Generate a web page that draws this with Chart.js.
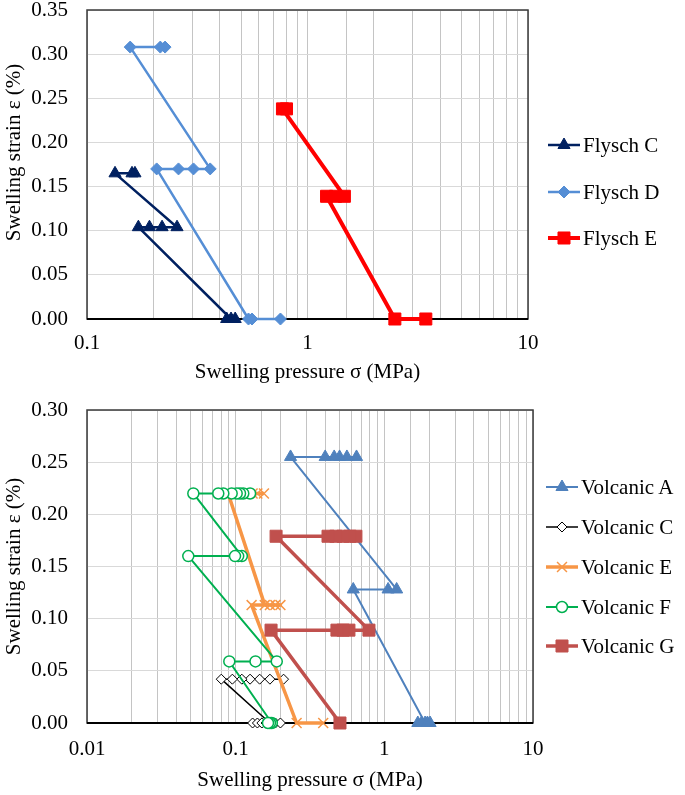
<!DOCTYPE html>
<html>
<head>
<meta charset="utf-8">
<script src="https://cdn.jsdelivr.net/npm/chart.js@4"></script>
<style>
  html, body { margin: 0; padding: 0; background: #fff; }
  #wrap { position: relative; width: 685px; height: 795px; background: #fff; overflow: hidden; }
  canvas.chart { position: absolute; left: 0; }
  .lg { position: absolute; display: flex; align-items: center; height: 26px;
        font-family: 'Liberation Serif', 'Times New Roman', serif; font-size: 21px; color: #000; white-space: nowrap; }
  .lg canvas { display: block; margin-right: 1px; }
</style>
</head>
<body>
<div id="wrap">
  <canvas id="topChart" class="chart" width="685" height="395" style="top:0"></canvas>
  <canvas id="botChart" class="chart" width="685" height="400" style="top:395px"></canvas>
</div>
<script>
// ---------------- DATA : top chart (Flysch) ----------------
const flyschC_x = [0.165, 0.160, 0.134, 0.256, 0.219, 0.192, 0.171, 0.45, 0.43, 0.47];
const flyschC_y = [0.165, 0.165, 0.165, 0.104, 0.104, 0.104, 0.104, 0, 0, 0];
const flyschD_x = [0.226, 0.215, 0.157, 0.362, 0.304, 0.260, 0.207, 0.54, 0.56, 0.754];
const flyschD_y = [0.308, 0.308, 0.308, 0.170, 0.170, 0.170, 0.170, 0, 0, 0];
const flyschE_x = [0.803, 0.770, 1.47, 1.34, 1.22, 2.49, 3.44];
const flyschE_y = [0.238, 0.238, 0.139, 0.139, 0.139, 0, 0];

// ---------------- DATA : bottom chart (Volcanic) ----------------
const volcA_x = [0.65, 0.56, 0.50, 0.46, 0.40, 0.234, 1.21, 1.06, 0.618, 1.88, 1.68, 1.78, 1.95, 2.03];
const volcA_y = [0.255, 0.255, 0.255, 0.255, 0.255, 0.255, 0.128, 0.128, 0.128, 0, 0, 0, 0, 0];
const volcC_x = [0.21, 0.17, 0.145, 0.125, 0.11, 0.095, 0.08, 0.17, 0.13, 0.14, 0.15, 0.16, 0.185, 0.20];
const volcC_y = [0.042, 0.042, 0.042, 0.042, 0.042, 0.042, 0.042, 0, 0, 0, 0, 0, 0, 0];
const volcE_x = [0.155, 0.14, 0.13, 0.12, 0.11, 0.10, 0.089, 0.157, 0.17, 0.185, 0.20, 0.128, 0.257, 0.388];
const volcE_y = [0.22, 0.22, 0.22, 0.22, 0.22, 0.22, 0.22, 0.113, 0.113, 0.113, 0.113, 0.113, 0, 0];
const volcF_x = [0.125, 0.1125, 0.107, 0.1016, 0.094, 0.0826, 0.0764, 0.0519, 0.110, 0.104, 0.099, 0.048, 0.189, 0.136, 0.0906, 0.175, 0.170, 0.165];
const volcF_y = [0.22, 0.22, 0.22, 0.22, 0.22, 0.22, 0.22, 0.22, 0.16, 0.16, 0.16, 0.16, 0.059, 0.059, 0.059, 0, 0, 0];
const volcG_x = [0.644, 0.587, 0.527, 0.472, 0.418, 0.187, 0.788, 0.578, 0.527, 0.48, 0.173, 0.503];
const volcG_y = [0.179, 0.179, 0.179, 0.179, 0.179, 0.179, 0.089, 0.089, 0.089, 0.089, 0.089, 0];

// ---------------- TICKS / LABELS ----------------
const topXMajor = [0.1, 1, 10];
const botXMajor = [0.01, 0.1, 1, 10];
const topYTicks = [0, 0.05, 0.10, 0.15, 0.20, 0.25, 0.30, 0.35];
const botYTicks = [0, 0.05, 0.10, 0.15, 0.20, 0.25, 0.30];
const xTitle = 'Swelling pressure σ (MPa)';
const yTitle = 'Swelling strain ε (%)';
const topNames = ['Flysch C', 'Flysch D', 'Flysch E'];
const botNames = ['Volcanic A', 'Volcanic C', 'Volcanic E', 'Volcanic F', 'Volcanic G'];

// ---------------- STYLES ----------------
const FONT = "'Liberation Serif', 'Times New Roman', serif";
const topStyles = [
  { color: '#002060', point: 'triangle', r: 7,   fill: '#002060', pbw: 1,   lw: 2.5 },
  { color: '#558ED5', point: 'rectRot',  r: 6,   fill: '#558ED5', pbw: 1,   lw: 2.5 },
  { color: '#FF0000', point: 'rect',     r: 8.5, fill: '#FF0000', pbw: 1,   lw: 4 }
];
const botStyles = [
  { color: '#4F81BD', point: 'triangle', r: 7,   fill: '#4F81BD', pbw: 1,   lw: 2 },
  { color: '#000000', point: 'rectRot',  r: 5,   fill: '#FFFFFF', pbw: 1,   lw: 1.5 },
  { color: '#F79646', point: 'crossRot', r: 7,   fill: '#F79646', pbw: 1.5, lw: 3.5 },
  { color: '#00B050', point: 'circle',   r: 5.5, fill: '#FFFFFF', pbw: 1.5, lw: 2 },
  { color: '#C0504D', point: 'rect',     r: 8.5, fill: '#C0504D', pbw: 1,   lw: 3.5 }
];

function pts(xs, ys) { return xs.map((x, i) => ({ x: x, y: ys[i] })); }

function makeDataset(label, xs, ys, st, order) {
  return {
    label: label,
    data: pts(xs, ys),
    showLine: true,
    borderColor: st.color,
    borderWidth: st.lw,
    borderJoinStyle: 'round',
    backgroundColor: st.fill,
    pointStyle: st.point,
    pointRadius: st.r,
    pointHoverRadius: st.r,
    pointBackgroundColor: st.fill,
    pointBorderColor: st.color,
    pointBorderWidth: st.pbw,
    clip: false,
    order: order
  };
}

const framePlugin = {
  id: 'frame',
  beforeDatasetsDraw(chart) {
    const { ctx, chartArea: a } = chart;
    ctx.save();
    ctx.strokeStyle = '#3a3a3a';
    ctx.lineWidth = 1.5;
    ctx.strokeRect(a.left, a.top, a.right - a.left, a.bottom - a.top);
    ctx.strokeStyle = '#000';
    ctx.lineWidth = 2;
    ctx.beginPath(); ctx.moveTo(a.left, a.bottom); ctx.lineTo(a.right, a.bottom); ctx.stroke();
    ctx.restore();
  }
};

const shiftYTitlePlugin = {
  id: 'shiftYTitle',
  afterLayout(chart, args, opts) {
    const s = chart.scales.y;
    if (s && !s._shiftPatched && opts && opts.dy) {
      const orig = s.drawTitle.bind(s);
      s.drawTitle = function () {
        const ctx = this.ctx;
        ctx.save(); ctx.translate(0, opts.dy); orig(); ctx.restore();
      };
      s._shiftPatched = true;
    }
  }
};

function isMajor(v, majors) { return majors.some(m => Math.abs(v / m - 1) < 1e-6); }

function makeChart(canvasId, datasets, cfg) {
  return new Chart(document.getElementById(canvasId), {
    type: 'scatter',
    data: { datasets: datasets },
    options: {
      responsive: false,
      animation: false,
      devicePixelRatio: 1,
      layout: { padding: { left: 0, right: cfg.padRight, top: cfg.padTop, bottom: 0 } },
      plugins: {
        legend: { display: false },
        tooltip: { enabled: false },
        shiftYTitle: { dy: cfg.yTitleDy }
      },
      scales: {
        x: {
          type: 'logarithmic',
          min: cfg.xMin, max: cfg.xMax,
          border: { display: false },
          grid: { color: '#c4c4c4', lineWidth: 1, drawTicks: false },
          ticks: {
            autoSkip: false, maxRotation: 0, minRotation: 0, padding: cfg.xTickPad,
            color: '#000', font: { family: FONT, size: 21 },
            callback: (v) => isMajor(v, cfg.xMajor) ? String(cfg.xMajor.find(m => Math.abs(v / m - 1) < 1e-6)) : ''
          },
          title: { display: true, text: xTitle, color: '#000', font: { family: FONT, size: 21 },
                   padding: { top: 0, bottom: cfg.xTitlePad } },
          afterFit: (s) => { s.height = cfg.xHeight; s.paddingLeft = 0; s.paddingRight = 0; }
        },
        y: {
          type: 'linear',
          min: 0, max: cfg.yMax,
          border: { display: false },
          grid: { color: '#d9d9d9', lineWidth: 1, drawTicks: false },
          afterBuildTicks: (s) => { s.ticks = cfg.yTicks.map(v => ({ value: v })); },
          ticks: {
            padding: 19, color: '#000', font: { family: FONT, size: 21 },
            callback: (v) => Number(v).toFixed(2)
          },
          title: { display: true, text: yTitle, color: '#000', font: { family: FONT, size: 21 },
                   padding: { top: 1.5, bottom: 0 } },
          afterFit: (s) => { s.width = 87; s.paddingTop = 0; s.paddingBottom = 0; }
        }
      }
    },
    plugins: [framePlugin, shiftYTitlePlugin]
  });
}

// ---- Top chart ----
const topSets = [
  makeDataset(topNames[0], flyschC_x, flyschC_y, topStyles[0], 2),
  makeDataset(topNames[1], flyschD_x, flyschD_y, topStyles[1], 1),
  makeDataset(topNames[2], flyschE_x, flyschE_y, topStyles[2], 0)
];
makeChart('topChart', topSets, {
  padRight: 157, padTop: 10, xMin: 0.1, xMax: 10, xMajor: topXMajor, yMax: 0.35, yTicks: topYTicks,
  xHeight: 76, xTickPad: 12, xTitlePad: 10, yTitleDy: -12
});

// ---- Bottom chart ----
const botSets = [
  makeDataset(botNames[0], volcA_x, volcA_y, botStyles[0], 4),
  makeDataset(botNames[1], volcC_x, volcC_y, botStyles[1], 3),
  makeDataset(botNames[2], volcE_x, volcE_y, botStyles[2], 2),
  makeDataset(botNames[3], volcF_x, volcF_y, botStyles[3], 1),
  makeDataset(botNames[4], volcG_x, volcG_y, botStyles[4], 0)
];
makeChart('botChart', botSets, {
  padRight: 152, padTop: 15, xMin: 0.01, xMax: 10, xMajor: botXMajor, yMax: 0.30, yTicks: botYTicks,
  xHeight: 72, xTickPad: 14, xTitlePad: 2, yTitleDy: 0
});

// ---------------- HTML legends ----------------
function drawMarker(ctx, style, x, y, r, fill, stroke, bw) {
  ctx.beginPath();
  if (style === 'triangle') {
    ctx.moveTo(x, y - r); ctx.lineTo(x + r * 0.866, y + r * 0.5); ctx.lineTo(x - r * 0.866, y + r * 0.5); ctx.closePath();
  } else if (style === 'rectRot') {
    ctx.moveTo(x, y - r); ctx.lineTo(x + r, y); ctx.lineTo(x, y + r); ctx.lineTo(x - r, y); ctx.closePath();
  } else if (style === 'rect') {
    const h = r * Math.SQRT1_2; ctx.rect(x - h, y - h, 2 * h, 2 * h);
  } else if (style === 'crossRot') {
    const d = r * Math.SQRT1_2;
    ctx.moveTo(x - d, y - d); ctx.lineTo(x + d, y + d); ctx.moveTo(x - d, y + d); ctx.lineTo(x + d, y - d);
  } else if (style === 'circle') {
    ctx.arc(x, y, r, 0, Math.PI * 2);
  }
  if (style !== 'crossRot') { ctx.fillStyle = fill; ctx.fill(); }
  ctx.lineWidth = bw; ctx.strokeStyle = stroke; ctx.stroke();
}

function addLegend(names, styles, left, ys) {
  const wrap = document.getElementById('wrap');
  names.forEach((name, i) => {
    const st = styles[i];
    const div = document.createElement('div');
    div.className = 'lg';
    div.style.left = left + 'px';
    div.style.top = (ys[i] - 13) + 'px';
    const c = document.createElement('canvas');
    c.width = 36; c.height = 26;
    const ctx = c.getContext('2d');
    ctx.strokeStyle = st.color; ctx.lineWidth = st.lw;
    ctx.beginPath(); ctx.moveTo(2, 13); ctx.lineTo(34, 13); ctx.stroke();
    drawMarker(ctx, st.point, 18, 13, st.r, st.fill, st.color, st.pbw);
    const span = document.createElement('span');
    span.textContent = name;
    div.appendChild(c); div.appendChild(span);
    wrap.appendChild(div);
  });
}
addLegend(topNames, topStyles, 546, [145, 192, 238]);
addLegend(botNames, botStyles, 544, [487, 527, 567, 607, 646]);
</script>
</body>
</html>
